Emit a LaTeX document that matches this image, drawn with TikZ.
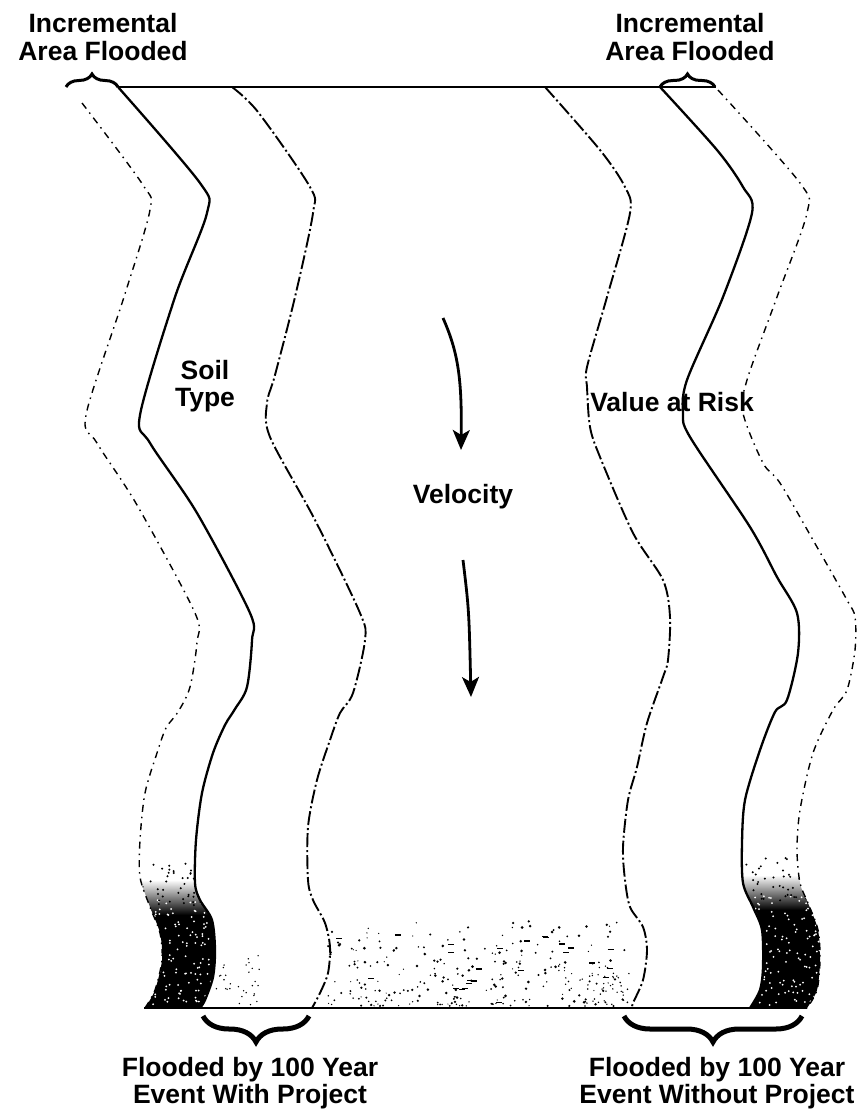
\documentclass[tikz,border=0pt]{standalone}
\usepackage{fontspec}
\setmainfont{Liberation Sans}
\usetikzlibrary{arrows.meta,decorations.pathreplacing}

\begin{document}
\begin{tikzpicture}[x=1pt,y=-1pt,>={Stealth[length=20pt,width=17pt,inset=5pt]},
  every node/.style={font=\fontsize{26.5}{27.5}\selectfont\bfseries,align=center,inner sep=0pt},
  solidbank/.style={line width=2.3pt},
  soilbank/.style={line width=1.9pt,dash pattern=on 14pt off 3pt on 2pt off 3pt},
  outerbank/.style={line width=1.4pt,dash pattern=on 7pt off 5pt on 1.5pt off 5pt},
  topbrace/.style={line width=3pt,decorate,decoration={brace,amplitude=13pt}},
  botbrace/.style={line width=5pt,decorate,decoration={brace,amplitude=26pt}},
  flowarrow/.style={->,line width=2.8pt}]
\useasboundingbox (0,0) rectangle (858,1113);
\pgfmathsetseed{4117}
% dark strip, left side
\begin{scope}
  \clip plot[smooth,tension=0.5] coordinates {(140,850) (140,877) (150,907) (160,933) (162,960) (155,990) (145,1008)}
    -- plot[smooth,tension=0.5] coordinates {(200,1008) (205,1000) (213,977) (215,950) (212,920) (200,900) (195,883) (195,850)} -- cycle;
  \shade[top color=white,bottom color=black] (130,880) rectangle (230,915);
  \fill (130,915) rectangle (230,1012);
  \foreach \k in {1,...,130}{\fill[white] ({140+75*rnd},{900+105*rnd}) circle (1);}
  \foreach \k in {1,...,45}{\fill ({140+70*rnd},{862+45*rnd}) circle (1.1);}
\end{scope}
% dark strip, right side
\begin{scope}
  \clip plot[smooth,tension=0.5] coordinates {(743,850) (743,883) (753,907) (762,930) (763,967) (760,990) (750,1008)}
    -- plot[smooth,tension=0.5] coordinates {(807,1008) (817,990) (820,960) (818,930) (808,903) (800,883) (799,850)} -- cycle;
  \shade[top color=white,bottom color=black] (735,875) rectangle (830,910);
  \fill (735,910) rectangle (830,1012);
  \foreach \k in {1,...,130}{\fill[white] ({745+75*rnd},{895+110*rnd}) circle (1);}
  \foreach \k in {1,...,45}{\fill ({745+70*rnd},{858+45*rnd}) circle (1.1);}
\end{scope}
% speckles in the channel
\foreach \k in {1,...,260}{
  \pgfmathsetmacro\sx{328+300*rnd}
  \pgfmathsetmacro\sy{1006-85*rnd^1.6}
  \pgfmathsetmacro\sr{0.6+0.9*rnd}
  \fill (\sx,\sy) circle (\sr);
}
\foreach \k in {1,...,25}{
  \pgfmathsetmacro\sx{335+280*rnd}
  \pgfmathsetmacro\sy{1004-70*rnd}
  \draw[line width=1.3pt] (\sx,\sy) -- ++(6,0);
}
\foreach \k in {1,...,30}{\fill ({215+45*rnd},{955+50*rnd}) circle (0.8);}
\foreach \k in {1,...,30}{\fill ({585+45*rnd},{960+45*rnd}) circle (0.8);}
% banks, left
\draw[outerbank] plot[smooth,tension=0.5] coordinates {(82,103) (143,185) (150,210) (124,297) (86,415) (97,443) (137,505) (195,613) (197,642) (190,687) (178,712) (166,728) (157,753) (145,793) (140,840) (140,877) (150,907) (160,933) (162,960) (155,990) (145,1008)};
\draw[solidbank] plot[smooth,tension=0.5] coordinates {(118,87) (200,183) (207,213) (175,297) (140,415) (150,443) (197,513) (250,613) (252,640) (247,687) (235,709) (225,725) (213,753) (202,793) (196,840) (195,883) (200,900) (212,920) (215,950) (213,977) (205,1000) (200,1008)};
\draw[soilbank] plot[smooth,tension=0.5] coordinates {(232,87) (258,112) (310,187) (313,213) (295,297) (275,375) (267,403) (270,437) (315,520) (360,613) (365,640) (353,693) (340,713) (330,740) (317,780) (308,827) (308,880) (313,900) (325,923) (330,947) (328,973) (320,993) (312,1008)};
% banks, right
\draw[soilbank] plot[smooth,tension=0.5] coordinates {(545,87) (600,150) (625,187) (630,213) (607,297) (587,367) (587,387) (590,427) (600,457) (633,533) (663,580) (670,617) (668,660) (663,677) (647,723) (637,767) (628,800) (623,847) (625,880) (630,907) (643,927) (647,950) (643,980) (633,1003) (632,1008)};
\draw[solidbank] plot[smooth,tension=0.5] coordinates {(660,87) (717,150) (743,187) (752,213) (723,297) (687,380) (683,413) (690,437) (750,527) (777,577) (797,613) (798,653) (787,700) (775,712) (760,750) (745,800) (742,843) (743,883) (753,907) (762,930) (763,967) (760,990) (750,1008)};
\draw[outerbank] plot[smooth,tension=0.5] coordinates {(718,90) (800,183) (807,213) (777,297) (747,380) (743,413) (763,463) (780,483) (813,540) (847,600) (855,617) (855,650) (847,690) (833,710) (813,753) (800,810) (797,850) (800,883) (808,903) (818,930) (820,960) (817,990) (807,1008)};
% cross sections
\coordinate (topW) at (118,87);
\coordinate (topE) at (716,87);
\coordinate (botW) at (144,1008);
\coordinate (botE) at (807,1008);
\draw[line width=2.3pt] (topW) -- (topE);
\draw[line width=2.8pt] (botW) -- (botE);
% braces
\coordinate (incLa) at (66,87);
\coordinate (incLb) at (118,87);
\coordinate (incRa) at (660,87);
\coordinate (incRb) at (715,87);
\coordinate (withA) at (203,1016);
\coordinate (withB) at (309,1016);
\coordinate (woA) at (624,1016);
\coordinate (woB) at (802,1016);
\draw[topbrace] (incLa) -- (incLb);
\draw[topbrace] (incRa) -- (incRb);
\draw[botbrace] (withB) -- (withA);
\draw[botbrace] (woB) -- (woA);
% flow
\coordinate (flowA) at (443,318);
\coordinate (flowB) at (461,450);
\coordinate (flowC) at (463,560);
\coordinate (flowD) at (471,697);
\draw[flowarrow] (flowA) .. controls (458,352) and (462,378) .. (flowB);
\draw[flowarrow] (flowC) .. controls (469,610) .. (flowD);
% labels
\node (incL) at (103,37) {Incremental\\Area Flooded};
\node (incR) at (690,37) {Incremental\\Area Flooded};
\node (soil) at (205,386) {Soil\\Type};
\node (velo) at (463,497) {Velocity};
\node (risk) at (672,402) {Value at Risk};
\node (withP) at (250,1083) {Flooded by 100 Year\\Event With Project};
\node (woP) at (717,1083) {Flooded by 100 Year\\Event Without Project};
\end{tikzpicture}
\end{document}
